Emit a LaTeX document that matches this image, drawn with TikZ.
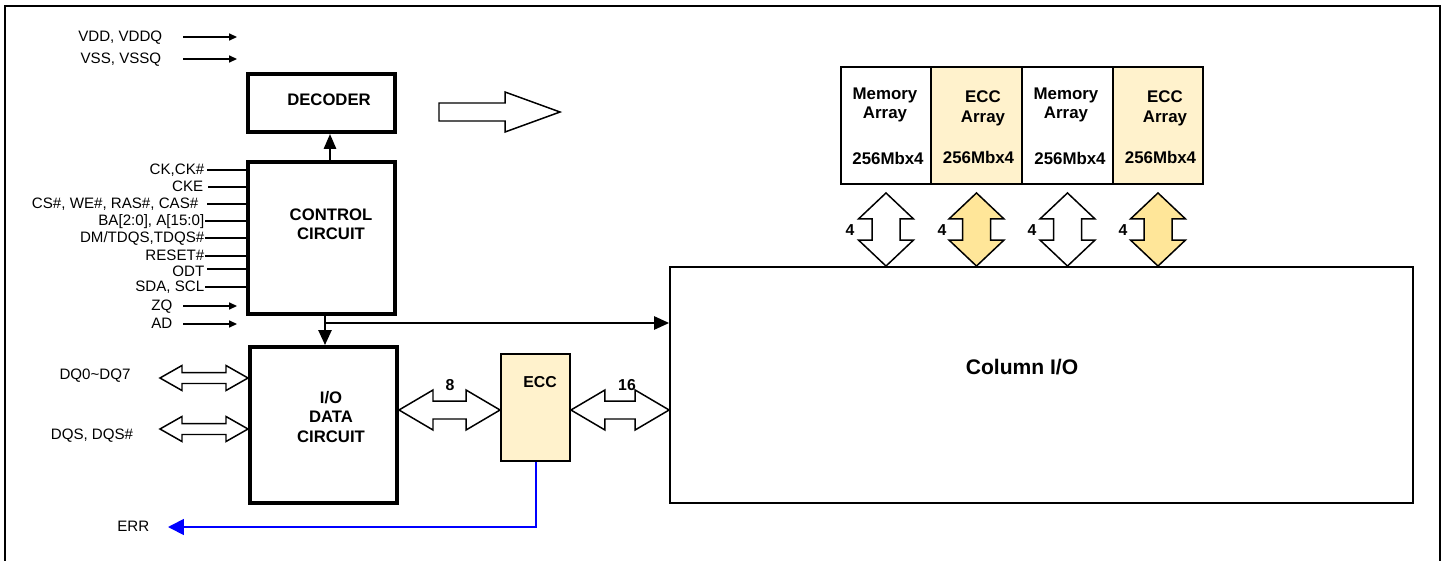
\documentclass[tikz,border=0pt]{standalone}
\usepackage{fontspec}
\setmainfont{Liberation Sans}
\usetikzlibrary{arrows.meta, calc}
\definecolor{eccfill}{HTML}{FFF2CC}
\definecolor{eccbus}{HTML}{FFE699}
\definecolor{errblue}{HTML}{0000FF}

% hollow bus arrows: #1 head length, #2 head half width, #3 shaft half width
\tikzset{
  hbus/.style n args={3}{to path={let \p1=(\tikztostart), \p2=(\tikztotarget) in
    (\x1,\y1) -- (\x1+#1,\y1+#2) -- (\x1+#1,\y1+#3) -- (\x2-#1,\y1+#3) -- (\x2-#1,\y1+#2) -- (\x2,\y1)
    -- (\x2-#1,\y1-#2) -- (\x2-#1,\y1-#3) -- (\x1+#1,\y1-#3) -- (\x1+#1,\y1-#2) -- cycle}},
  vbus/.style n args={3}{to path={let \p1=(\tikztostart), \p2=(\tikztotarget) in
    (\x1,\y1) -- (\x1+#2,\y1-#1) -- (\x1+#3,\y1-#1) -- (\x1+#3,\y2+#1) -- (\x1+#2,\y2+#1) -- (\x1,\y2)
    -- (\x1-#2,\y2+#1) -- (\x1-#3,\y2+#1) -- (\x1-#3,\y1-#1) -- (\x1-#2,\y1-#1) -- cycle}},
}

\begin{document}
\begin{tikzpicture}[x=0.02cm, y=-0.02cm, line width=0.85pt,
  small tip/.style={-{Triangle[length=4.5pt, width=4pt]}},
  big tip/.style={-{Triangle[length=8.5pt, width=7.5pt]}},
  pintext/.style={font=\fontsize{8.6}{10}\selectfont, inner sep=0pt, text height=6.3pt, text depth=1.6pt},
  bigbox/.style={draw, line width=2.3pt, inner sep=0pt},
  thinbox/.style={draw, line width=1.1pt, inner sep=0pt},
  boxtext/.style={font=\fontsize{9.5}{11}\selectfont\bfseries, align=center, inner sep=0pt},
  memtext/.style={font=\fontsize{9.6}{11.3}\selectfont\bfseries, align=center, inner sep=0pt},
  numtext/.style={font=\fontsize{9}{11}\selectfont\bfseries, inner sep=0pt}]

  \useasboundingbox (0,0) rectangle (1445,561);

  % Rámeček
  \draw[line width=0.9pt] (5,561) -- (5,6) -- (1440,6) -- (1440,561);

  % Bloky
  \node[bigbox, minimum width=2.94cm, minimum height=1.16cm] (decoder) at (321.5,103) {};
  \node[boxtext] (decodertxt) at (329,100) {DECODER};
  \node[bigbox, minimum width=2.94cm, minimum height=3.04cm] (control) at (321.5,238) {};
  \node[boxtext] (controltxt) at (331,224) {CONTROL\\CIRCUIT};
  \node[bigbox, minimum width=2.94cm, minimum height=3.12cm] (iodata) at (323.5,425) {};
  \node[boxtext] (iodatatxt) at (331,417) {I/O\\DATA\\CIRCUIT};
  \node[thinbox, fill=eccfill, minimum width=1.38cm, minimum height=2.14cm] (ecc) at (535.5,407.5) {};
  \node[numtext] (ecctxt) at (540,382) {ECC};
  \node[thinbox, minimum width=14.86cm, minimum height=4.72cm] (colio) at (1041.5,385) {};
  \node[font=\fontsize{12}{14}\selectfont\bfseries] (coliotxt) at (1022,367) {Column I/O};

  % Paměťová pole
  \node[thinbox, minimum width=1.81cm, minimum height=2.34cm] (mem1) at (886,125.5) {};
  \node[thinbox, fill=eccfill, minimum width=1.81cm, minimum height=2.34cm] (mem2) at (976.5,125.5) {};
  \node[thinbox, minimum width=1.81cm, minimum height=2.34cm] (mem3) at (1067.5,125.5) {};
  \node[thinbox, fill=eccfill, minimum width=1.81cm, minimum height=2.34cm] (mem4) at (1158,125.5) {};
  \node[memtext] (mem1txt) at (885,105) {Memory\\Array};
  \node[memtext] (mem2txt) at (983,108) {ECC\\Array};
  \node[memtext] (mem3txt) at (1066,105) {Memory\\Array};
  \node[memtext] (mem4txt) at (1165,108) {ECC\\Array};
  \node[memtext] (mem1sz) at (888,158) {256Mbx4};
  \node[memtext] (mem2sz) at (978.5,157) {256Mbx4};
  \node[memtext] (mem3sz) at (1070,158) {256Mbx4};
  \node[memtext] (mem4sz) at (1160.5,157) {256Mbx4};

  % Sběrnice k polím
  \draw[vbus={0.52cm}{0.55cm}{0.28cm}, fill=white] ([yshift=-0.16cm]mem1.south) to (mem1.south |- colio.north);
  \draw[vbus={0.52cm}{0.55cm}{0.28cm}, fill=eccbus] ([yshift=-0.16cm]mem2.south) to (mem2.south |- colio.north);
  \draw[vbus={0.52cm}{0.55cm}{0.28cm}, fill=white] ([yshift=-0.16cm]mem3.south) to (mem3.south |- colio.north);
  \draw[vbus={0.52cm}{0.55cm}{0.28cm}, fill=eccbus] ([yshift=-0.16cm]mem4.south) to (mem4.south |- colio.north);
  \node[numtext] (w1) at (850,230) {4};
  \node[numtext] (w2) at (942,230) {4};
  \node[numtext] (w3) at (1032,230) {4};
  \node[numtext] (w4) at (1123,230) {4};

  % Napájení
  \node[pintext, anchor=east] (vdd) at (163,37) {VDD, VDDQ};
  \node[pintext, anchor=east] (vss) at (162,59) {VSS, VSSQ};
  \draw[small tip] (vdd.east -| 183,0) -- (vdd.east -| 237,0);
  \draw[small tip] (vss.east -| 183,0) -- (vss.east -| 237,0);

  % Řídicí vstupy
  \node[pintext, anchor=east] (ck) at (205,170) {CK,CK\#};
  \node[pintext, anchor=east] (cke) at (204,187) {CKE};
  \node[pintext, anchor=east] (cmd) at (199,204) {CS\#, WE\#, RAS\#, CAS\#};
  \node[pintext, anchor=east] (addr) at (205,221) {BA[2:0], A[15:0]};
  \node[pintext, anchor=east] (dm) at (205,238) {DM/TDQS,TDQS\#};
  \node[pintext, anchor=east] (rst) at (205,256) {RESET\#};
  \node[pintext, anchor=east] (odt) at (205,272) {ODT};
  \node[pintext, anchor=east] (sda) at (205,287) {SDA, SCL};
  \node[pintext, anchor=east] (zq) at (173,306) {ZQ};
  \node[pintext, anchor=east] (ad) at (173,324) {AD};
  \draw (ck.east -| 207,0) -- (ck.east -| control.west);
  \draw (cke.east -| 208,0) -- (cke.east -| control.west);
  \draw (cmd.east -| 207,0) -- (cmd.east -| control.west);
  \draw (addr.east) -- (addr.east -| control.west);
  \draw (dm.east) -- (dm.east -| control.west);
  \draw (rst.east) -- (rst.east -| control.west);
  \draw (207,269) -- (control.west |- 0,269);
  \draw (sda.east) -- (sda.east -| control.west);
  \draw[small tip] (zq.east -| 183,0) -- (zq.east -| 237,0);
  \draw[small tip] (ad.east -| 183,0) -- (ad.east -| 237,0);

  % Vnitřní spoje
  \draw[line width=1.1pt, -{Triangle[length=8.5pt, width=7pt]}] (control.north -| 330,0) -- (decoder.south -| 330,0);
  \draw[line width=1.1pt, big tip] (control.south -| 325,0) -- (iodata.north -| 325,0);
  \coordinate (split) at (325,323);
  \draw[line width=1.1pt, big tip] (split) -- (split -| colio.west);
  \draw (439,103) -- (505,103) -- (505,92) -- (560,112) -- (505,132) -- (505,121) -- (439,121) -- cycle;

  % Datové sběrnice
  \node[pintext] (dq) at (95,375) {DQ0\textasciitilde DQ7};
  \node[pintext] (dqs) at (92,435) {DQS, DQS\#};
  \coordinate (dqa) at (160,378);
  \coordinate (dqb) at (160,429);
  \draw[hbus={0.44cm}{0.25cm}{0.11cm}] (dqa) to (dqa -| iodata.west);
  \draw[hbus={0.44cm}{0.25cm}{0.11cm}] (dqb) to (dqb -| iodata.west);
  \draw[hbus={0.68cm}{0.4cm}{0.18cm}] (iodata.east |- 0,410) to (ecc.west |- 0,410);
  \draw[hbus={0.68cm}{0.4cm}{0.18cm}] (ecc.east |- 0,410) to (colio.west |- 0,410);
  \node[numtext] (w8) at (450,385) {8};
  \node[numtext] (w16) at (627,385) {16};

  % Chybový výstup
  \node[pintext, anchor=east] (err) at (150,527) {ERR};
  \draw[errblue, line width=1pt, -{Triangle[length=9pt, width=9pt]}] ([xshift=0.01cm]ecc.south) |- (err.east -| 168,0);
\end{tikzpicture}
\end{document}
